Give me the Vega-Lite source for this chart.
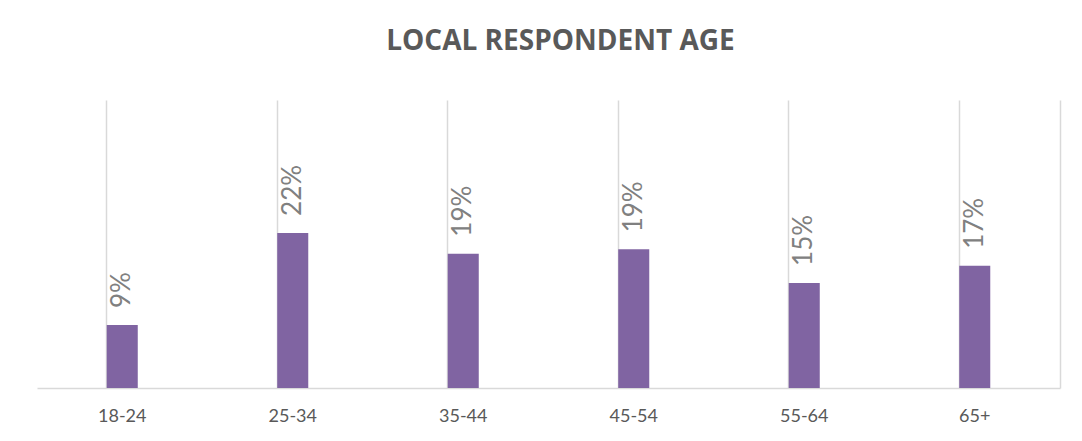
{
  "$schema": "https://vega.github.io/schema/vega-lite/v6.json",
  "width": 1023,
  "height": 288,
  "autosize": {"type": "none"},
  "padding": {"left": 37, "top": 100, "right": 22, "bottom": 53},
  "background": "white",
  "title": {
    "text": "LOCAL RESPONDENT AGE",
    "font": "Open Sans",
    "fontWeight": "bold",
    "fontSize": 28,
    "color": "#595959",
    "anchor": "middle",
    "frame": "group",
    "baseline": "alphabetic",
    "offset": 22,
    "dx": 12
  },
  "data": {
    "values": [
      {"age": "18-24", "share": 0.088},
      {"age": "25-34", "share": 0.217},
      {"age": "35-44", "share": 0.188},
      {"age": "45-54", "share": 0.194},
      {"age": "55-64", "share": 0.147},
      {"age": "65+", "share": 0.171}
    ]
  },
  "encoding": {
    "x": {
      "field": "age",
      "type": "nominal",
      "sort": null,
      "scale": {"paddingInner": 0.818, "paddingOuter": 0.409},
      "axis": {
        "title": null,
        "labelAngle": 0,
        "labelFont": "Lato",
        "labelFontSize": 18,
        "labelColor": "#595959",
        "labelPadding": 19,
        "ticks": false,
        "grid": true,
        "bandPosition": 0,
        "gridColor": "#d9d9d9",
        "gridWidth": 1.5,
        "domainColor": "#d9d9d9",
        "domainWidth": 1.5
      }
    },
    "y": {
      "field": "share",
      "type": "quantitative",
      "scale": {"domain": [0, 0.403], "nice": false},
      "axis": {
        "orient": "right",
        "title": null,
        "labels": false,
        "ticks": false,
        "grid": false,
        "domain": true,
        "domainColor": "#d9d9d9",
        "domainWidth": 1.5
      }
    }
  },
  "layer": [
    {"mark": {"type": "bar", "color": "#8064A2"}},
    {
      "mark": {
        "type": "text",
        "angle": -90,
        "align": "left",
        "baseline": "middle",
        "dx": 17,
        "font": "Lato",
        "fontSize": 26,
        "color": "#808080"
      },
      "encoding": {
        "text": {"field": "share", "type": "quantitative", "format": ".0%"}
      }
    }
  ],
  "config": {"view": {"stroke": null}}
}
